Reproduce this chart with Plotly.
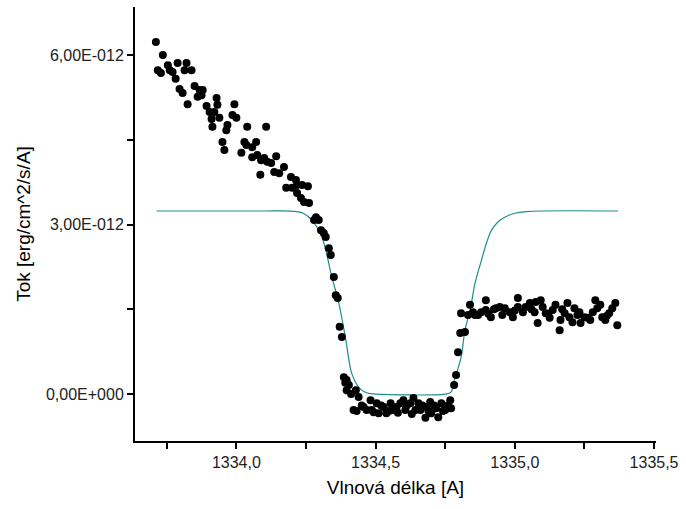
import plotly.graph_objects as go

# Measured points (wavelength in Angstrom, flux in units of 1e-12 erg/cm^2/s/A)
obs_x = [
    1333.711, 1333.736, 1333.718, 1333.729, 1333.754, 1333.761, 1333.771, 1333.789, 1333.782, 1333.814,
    1333.821, 1333.839, 1333.796, 1333.807, 1333.825, 1333.850, 1333.868, 1333.879, 1333.861, 1333.875,
    1333.893, 1333.904, 1333.929, 1333.932, 1333.921, 1333.911, 1333.914, 1333.939, 1333.964, 1333.968,
    1333.986, 1333.993, 1334.000, 1333.950, 1333.957, 1334.029, 1334.039, 1334.018, 1334.036, 1334.057,
    1334.071, 1334.057, 1334.075, 1334.089, 1334.107, 1334.100, 1334.111, 1334.125, 1334.143, 1334.086,
    1334.136, 1334.154, 1334.171, 1334.179, 1334.196, 1334.200, 1334.214, 1334.218, 1334.236, 1334.257,
    1334.232, 1334.243, 1334.261, 1334.286, 1334.296, 1334.304, 1334.321, 1334.218, 1334.279, 1334.314,
    1334.332, 1334.339, 1334.350, 1334.357, 1334.364, 1334.371, 1334.379, 1334.386, 1334.396, 1334.404,
    1334.396, 1334.429, 1334.439, 1334.421, 1334.457, 1334.468, 1334.482, 1334.486, 1334.504, 1334.511,
    1334.529, 1334.539, 1334.554, 1334.564, 1334.575, 1334.589, 1334.600, 1334.607, 1334.625, 1334.636,
    1334.643, 1334.654, 1334.661, 1334.679, 1334.682, 1334.696, 1334.700, 1334.718, 1334.725, 1334.736,
    1334.750, 1334.768, 1334.771, 1334.782, 1334.789, 1334.796, 1334.804, 1334.821, 1334.807, 1334.839,
    1334.832, 1334.857, 1334.850, 1334.868, 1334.879, 1334.896, 1334.896, 1334.914, 1334.932, 1334.946,
    1334.964, 1334.982, 1334.993, 1335.011, 1335.011, 1335.029, 1335.039, 1335.054, 1335.071, 1335.075,
    1335.082, 1335.093, 1335.100, 1335.111, 1335.125, 1335.136, 1335.146, 1335.161, 1335.164, 1335.179,
    1335.189, 1335.196, 1335.207, 1335.214, 1335.232, 1335.236, 1335.250, 1335.261, 1335.271, 1335.289,
    1335.296, 1335.307, 1335.314, 1335.325, 1335.339, 1335.350, 1335.361, 1335.368,
    1334.432, 1334.450, 1334.493, 1334.520, 1334.548, 1334.580, 1334.612, 1334.630, 1334.668, 1334.690,
    1334.710, 1334.742, 1334.760, 1334.391, 1334.412, 1334.905, 1334.925, 1334.955, 1335.000, 1335.060,
    1335.120, 1335.170, 1335.225, 1335.280, 1335.330,
]
obs_y = [
    6.23, 6.00, 5.73, 5.68, 5.82, 5.73, 5.70, 5.86, 5.58, 5.73,
    5.86, 5.73, 5.40, 5.33, 5.13, 5.45, 5.38, 5.38, 5.26, 5.29,
    5.10, 4.99, 5.24, 5.12, 4.99, 4.87, 4.73, 4.89, 4.67, 4.76,
    4.94, 5.13, 4.89, 4.46, 4.32, 4.46, 4.73, 4.27, 4.41, 4.37,
    4.46, 4.19, 4.23, 4.14, 4.73, 4.18, 4.11, 4.09, 4.21, 3.88,
    3.93, 3.91, 4.02, 3.65, 3.84, 3.65, 3.79, 3.56, 3.70, 3.68,
    3.47, 3.40, 3.38, 3.13, 3.08, 2.90, 2.78, 3.70, 3.08, 2.85,
    2.58, 2.46, 2.07, 1.75, 1.70, 1.19, 1.01, 0.30, 0.25, 0.16,
    0.07, 0.07, -0.05, -0.28, -0.23, -0.28, -0.11, -0.28, -0.16, -0.34,
    -0.23, -0.34, -0.16, -0.28, -0.23, -0.16, -0.11, -0.28, -0.16, -0.07,
    -0.28, -0.16, -0.28, -0.42, -0.23, -0.14, -0.34, -0.25, -0.41, -0.16,
    -0.28, -0.11, -0.25, 0.16, 0.34, 0.74, 1.08, 1.10, 1.43, 1.58,
    1.40, 1.40, 1.45, 1.40, 1.45, 1.66, 1.49, 1.36, 1.52, 1.54,
    1.52, 1.45, 1.36, 1.70, 1.54, 1.45, 1.54, 1.61, 1.45, 1.63,
    1.26, 1.66, 1.54, 1.43, 1.35, 1.49, 1.58, 1.13, 1.31, 1.43,
    1.61, 1.36, 1.27, 1.52, 1.45, 1.26, 1.36, 1.35, 1.31, 1.66,
    1.52, 1.58, 1.36, 1.31, 1.43, 1.52, 1.61, 1.22,
    -0.30, -0.20, -0.32, -0.20, -0.30, -0.33, -0.20, -0.35, -0.20, -0.30,
    -0.20, -0.30, -0.20, 0.20, 0.00, 1.42, 1.50, 1.40, 1.48, 1.50,
    1.42, 1.50, 1.40, 1.45, 1.38,
]

# Fitted model profile (same units)
fit_x = [1333.714, 1334.100, 1334.200, 1334.240, 1334.271, 1334.307, 1334.343, 1334.368, 1334.393,
         1334.414, 1334.435, 1334.450, 1334.470, 1334.500, 1334.750, 1334.770, 1334.786, 1334.807,
         1334.821, 1334.840, 1334.857, 1334.879, 1334.900, 1334.914, 1334.940, 1334.964, 1335.000,
         1335.040, 1335.371]
fit_y = [3.24, 3.24, 3.235, 3.20, 3.08, 2.78, 2.07, 1.61, 0.96,
         0.37, 0.15, 0.07, 0.02, 0.0, 0.0, 0.03, 0.30, 0.65,
         1.13, 1.50, 1.96, 2.35, 2.70, 2.88, 3.05, 3.13, 3.20,
         3.23, 3.24]

x_ticks = [1333.75, 1334.0, 1334.25, 1334.5, 1334.75, 1335.0, 1335.25, 1335.5]
x_labels = ["", "1334,0", "", "1334,5", "", "1335,0", "", "1335,5"]
y_ticks = [0, 1.5, 3, 4.5, 6]
y_labels = ["0,00E+000", "", "3,00E-012", "", "6,00E-012"]

fig = go.Figure()
fig.add_trace(go.Scatter(x=fit_x, y=fit_y, mode="lines",
                         line=dict(color="#1b8e8e", width=1.2), line_shape="spline",
                         showlegend=False, hoverinfo="skip"))
fig.add_trace(go.Scatter(x=obs_x, y=obs_y, mode="markers",
                         marker=dict(color="black", size=8, line=dict(width=0)),
                         showlegend=False))

axis_font = dict(family="Liberation Sans, Arial, sans-serif", size=16, color="#222222")
fig.update_layout(
    width=686, height=509,
    margin=dict(l=135, r=27, t=7, b=68),
    paper_bgcolor="white", plot_bgcolor="white",
    font=dict(family="Liberation Sans, Arial, sans-serif", color="black"),
    xaxis=dict(range=[1333.636, 1335.507], tickmode="array", tickvals=x_ticks, ticktext=x_labels,
               showgrid=False, zeroline=False, showline=True, linecolor="black", linewidth=2,
               ticks="outside", ticklen=6, tickwidth=1.5, tickcolor="black", tickfont=axis_font,
               title=dict(text="Vlnová délka [A]", font=dict(size=19, color="black"), standoff=10)),
    yaxis=dict(range=[-0.83, 6.85], tickmode="array", tickvals=y_ticks, ticktext=y_labels,
               showgrid=False, zeroline=False, showline=True, linecolor="black", linewidth=2,
               ticks="outside", ticklen=6, tickwidth=1.5, tickcolor="black", tickfont=axis_font,
               title=dict(text="Tok [erg/cm^2/s/A]", font=dict(size=19, color="black"), standoff=10)),
)

fig.write_html("out.html")
